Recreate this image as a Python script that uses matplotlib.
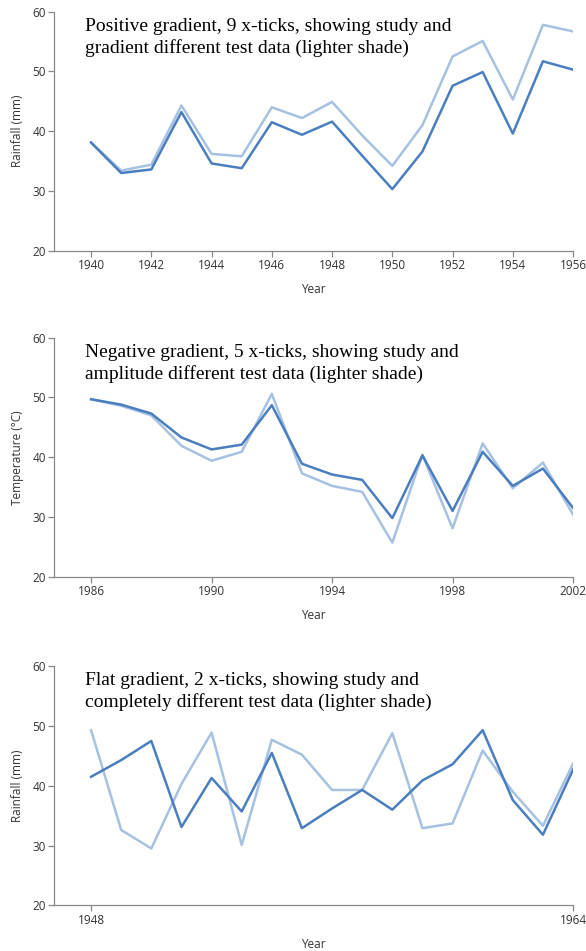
import matplotlib
matplotlib.use("Agg")
import matplotlib.pyplot as plt
import numpy as np

# panel 1: positive gradient
years1 = list(range(1940, 1957))
study1 = [38.1, 33.0, 33.6, 43.2, 34.6, 33.8, 41.5, 39.4, 41.6, 35.9,
          30.3, 36.6, 47.6, 49.9, 39.6, 51.7, 50.3]
test1 = [38.1, 33.4, 34.4, 44.3, 36.2, 35.8, 44.0, 42.2, 44.9, 39.3,
         34.2, 41.0, 52.5, 55.1, 45.3, 57.8, 56.7]
xticks1 = list(range(1940, 1957, 2))

# panel 2: negative gradient
years2 = list(range(1986, 2003))
study2 = [49.7, 48.8, 47.3, 43.3, 41.3, 42.1, 48.7, 38.9, 37.1, 36.2,
          29.8, 40.3, 31.0, 40.9, 35.2, 38.1, 31.5]
test2 = [49.7, 48.6, 47.0, 41.9, 39.4, 40.9, 50.6, 37.3, 35.2, 34.2,
         25.7, 40.4, 28.1, 42.3, 34.8, 39.1, 30.4]
xticks2 = list(range(1986, 2003, 4))

# panel 3: flat gradient
years3 = list(range(1948, 1965))
study3 = [41.5, 44.3, 47.5, 33.1, 41.3, 35.7, 45.5, 32.9, 36.2, 39.3,
          36.0, 40.9, 43.6, 49.3, 37.6, 31.8, 42.7]
test3 = [49.3, 32.6, 29.5, 40.3, 48.9, 30.1, 47.7, 45.2, 39.3, 39.3,
         48.8, 32.9, 33.7, 45.9, 39.0, 33.3, 43.7]
xticks3 = [1948, 1964]

panels = [
    (years1, study1, test1, xticks1, "Rainfall (mm)",
     "Positive gradient, 9 x-ticks, showing study and\ngradient different test data (lighter shade)"),
    (years2, study2, test2, xticks2, "Temperature (\u00b0C)",
     "Negative gradient, 5 x-ticks, showing study and\namplitude different test data (lighter shade)"),
    (years3, study3, test3, xticks3, "Rainfall (mm)",
     "Flat gradient, 2 x-ticks, showing study and\ncompletely different test data (lighter shade)"),
]

dark = "#4a7ebf"
light = "#a6c1e2"
axis_col = "#888888"
text_col = "#333333"

plt.rcParams['font.family'] = ['Open Sans', 'DejaVu Sans']

fig = plt.figure(figsize=(5.86, 9.51), dpi=100)
bottoms = [0.7364, 0.3936, 0.0481]
for (yrs, s, t, xt, ylab, title), b in zip(panels, bottoms):
    ax = fig.add_axes([0.0922, b, 0.8857, 0.2513])
    ax.plot(yrs, t, color=light, lw=1.8)
    ax.plot(yrs, s, color=dark, lw=1.8)
    ax.set_xlim(yrs[0] - 1.23, yrs[-1])
    ax.set_ylim(20, 60)
    ax.set_xticks(xt)
    ax.set_xticklabels([str(v) for v in xt])
    ax.set_yticks([20, 30, 40, 50, 60])
    for sp in ['top', 'right']:
        ax.spines[sp].set_visible(False)
    for sp in ['left', 'bottom']:
        ax.spines[sp].set_color(axis_col)
        ax.spines[sp].set_linewidth(0.9)
    ax.tick_params(length=4, width=0.9, color=axis_col, labelsize=8.5,
                   labelcolor=text_col, pad=2)
    ax.set_xlabel("Year", fontsize=8.5, color=text_col, labelpad=8)
    ax.set_ylabel(ylab, fontsize=8.5, color=text_col, labelpad=6)
    ax.text(0.06, 0.975, title, transform=ax.transAxes, va='top', ha='left',
            family='Liberation Serif', fontsize=14, color='black',
            linespacing=1.3)

fig.savefig("out.png", dpi=100)
